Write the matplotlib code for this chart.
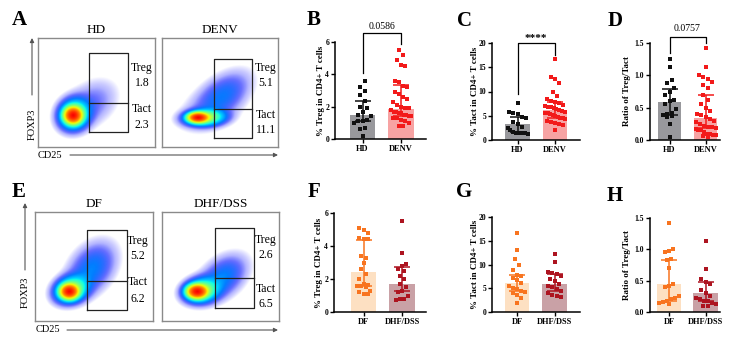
import numpy as np
import matplotlib
matplotlib.use('Agg')
import matplotlib.pyplot as plt
from matplotlib import colormaps

# ---------------- data ----------------
# Panel B: % Treg in CD4+ T cells (HD vs DENV)
B_groups = ["HD", "DENV"]
B_median = [1.50, 1.85]
B_q1 = [1.10, 1.40]
B_q3 = [2.35, 3.35]
B_HD = [3.6, 3.2, 3.0, 2.7, 2.35, 2.0, 1.9, 1.7, 1.5, 1.4, 1.2, 1.1, 1.1, 1.0, 0.7, 0.6, 0.2]
B_DENV = [5.5, 5.2, 4.9, 4.6, 4.5, 3.6, 3.5, 3.3, 3.2, 2.9, 2.8, 2.6, 2.5, 2.3, 2.1, 2.0,
          1.9, 1.9, 1.8, 1.7, 1.7, 1.6, 1.6, 1.5, 1.5, 1.4, 1.4, 1.3, 1.3, 1.2, 1.1, 1.0, 0.8, 0.8]
B_p = "0.0586"

# Panel C: % Tact in CD4+ T cells
C_median = [3.4, 6.1]
C_q1 = [1.6, 4.5]
C_q3 = [4.7, 7.9]
C_HD = [7.6, 5.8, 5.5, 5.3, 4.7, 4.5, 3.8, 3.3, 2.7, 2.4, 2.0, 1.6, 1.5, 1.5, 1.5, 1.4, 1.3]
C_DENV = [16.7, 13.0, 12.5, 11.7, 10.0, 9.0, 8.5, 8.1, 7.9, 7.6, 7.3, 7.0, 6.8, 6.8, 6.5, 6.3,
          6.2, 6.0, 5.8, 5.6, 5.5, 5.4, 5.2, 5.0, 4.8, 4.6, 4.5, 4.3, 4.0, 3.8, 3.5, 3.2, 3.0, 2.0]
C_p = "****"

# Panel D: Ratio of Treg/Tact
D_median = [0.59, 0.34]
D_q1 = [0.38, 0.18]
D_q3 = [0.79, 0.69]
D_HD = [1.25, 1.13, 0.93, 0.88, 0.80, 0.75, 0.70, 0.62, 0.60, 0.55, 0.48, 0.42, 0.40, 0.38,
        0.37, 0.35, 0.25, 0.05]
D_DENV = [1.42, 1.13, 1.0, 0.98, 0.95, 0.90, 0.85, 0.80, 0.70, 0.62, 0.55, 0.50, 0.45, 0.40,
          0.38, 0.35, 0.33, 0.30, 0.28, 0.25, 0.22, 0.20, 0.20, 0.18, 0.17, 0.15, 0.15, 0.12,
          0.10, 0.10, 0.08, 0.07, 0.06, 0.05]
D_p = "0.0757"

# Panel F: % Treg (DF vs DHF/DSS)
F_groups = ["DF", "DHF/DSS"]
F_median = [2.45, 1.70]
F_q1 = [1.60, 1.25]
F_q3 = [4.35, 2.70]
F_DF = [5.1, 5.0, 4.8, 4.5, 4.4, 4.4, 3.4, 3.3, 3.0, 2.6, 2.3, 2.0, 1.7, 1.65, 1.6, 1.6,
        1.5, 1.3, 1.2, 1.1, 1.1]
F_DHF = [5.5, 3.6, 2.9, 2.8, 2.6, 2.5, 2.2, 2.0, 1.7, 1.5, 1.3, 1.2, 1.0, 0.8, 0.8, 0.75]

# Panel G: % Tact
G_median = [6.1, 6.0]
G_q1 = [4.5, 4.4]
G_q3 = [7.8, 8.1]
G_DF = [16.7, 13.0, 11.2, 10.0, 8.8, 7.8, 7.5, 7.2, 6.8, 6.2, 5.5, 5.0, 4.8, 4.5, 4.3,
        4.0, 3.5, 3.0, 2.0]
G_DHF = [12.3, 10.6, 8.4, 8.2, 8.0, 7.5, 7.0, 6.5, 6.0, 5.5, 5.2, 4.8, 4.4, 4.0, 3.6, 3.4, 3.2]

# Panel H: Ratio of Treg/Tact
H_median = [0.44, 0.30]
H_q1 = [0.18, 0.17]
H_q3 = [0.83, 0.48]
H_DF = [1.42, 1.0, 0.98, 0.95, 0.85, 0.83, 0.70, 0.45, 0.42, 0.40, 0.25, 0.22, 0.20, 0.18,
        0.16, 0.15, 0.13]
H_DHF = [1.13, 0.69, 0.52, 0.48, 0.45, 0.35, 0.30, 0.25, 0.22, 0.20, 0.18, 0.17, 0.15, 0.12,
         0.10, 0.10]

# Flow panels: gate percentages
flow_titles = ["HD", "DENV", "DF", "DHF/DSS"]
treg_pct = ["1.8", "5.1", "5.2", "2.6"]
tact_pct = ["2.3", "11.1", "6.2", "6.5"]

# ---------------- style ----------------
c_hd_bar, c_hd_pt = "#98989c", "#111111"
c_denv_bar, c_denv_pt = "#f7a3a3", "#f21a1a"
c_df_bar, c_df_pt = "#fde0c2", "#f8741f"
c_dhf_bar, c_dhf_pt = "#c9a1a6", "#ad1420"

W, H = 751, 350
plt.rcParams['font.family'] = ['Liberation Serif', 'DejaVu Serif']
fig = plt.figure(figsize=(W / 100, H / 100), dpi=100)

ov = fig.add_axes([0, 0, 1, 1])
ov.set_xlim(0, W)
ov.set_ylim(H, 0)
ov.axis('off')


def ax_px(x0, y0, x1, y1):
    return fig.add_axes([x0 / W, 1 - y1 / H, (x1 - x0) / W, (y1 - y0) / H])


def swarm(vals, ppy, ppx, row=6.5, sp=4.2, maxw=10.0):
    """column-scatter layout: points within one row band are spread side by side"""
    order = list(np.argsort(vals)[::-1])
    groups = []
    for i in order:
        if groups and (vals[groups[-1][0]] - vals[i]) * ppy < row:
            groups[-1].append(i)
        else:
            groups.append([i])
    offs = np.zeros(len(vals))
    for g in groups:
        n = len(g)
        if n == 1:
            continue
        s = min(sp, 2 * maxw / (n - 1))
        for k, i in enumerate(g):
            j = k if (len(groups) % 2 == 0) else n - 1 - k
            offs[i] = (j - (n - 1) / 2) * s / ppx
    return offs


def bar_panel(rect, cpx, groups, med, q1, q3, pts, bcols, pcols, ylim, yticks,
              yticklabels, ylabel, ylab_x, bracket=None):
    x0, y0, x1, y1 = rect
    ax = ax_px(*rect)
    dc = cpx[1] - cpx[0]
    ax.set_xlim((x0 - cpx[0]) / dc, (x1 - cpx[0]) / dc)
    ax.set_ylim(*ylim)
    ppy = (y1 - y0) / (ylim[1] - ylim[0])
    xs = [0, 1]
    for i in range(2):
        ax.bar(xs[i], med[i], width=0.66, color=bcols[i], zorder=1)
        v = np.array(pts[i])
        offs = swarm(v, ppy, dc)
        ax.scatter(xs[i] + offs, v, s=5, color=pcols[i], marker='s', linewidths=0, zorder=3)
        ax.errorbar(xs[i], med[i], yerr=[[med[i] - q1[i]], [q3[i] - med[i]]], fmt='none',
                    ecolor=pcols[i], elinewidth=1.1, capsize=6, capthick=1.1, zorder=4)
    for s in ['top', 'right']:
        ax.spines[s].set_visible(False)
    for s in ['left', 'bottom']:
        ax.spines[s].set_linewidth(1.1)
    ax.set_xticks(xs)
    ax.set_xticklabels(groups, fontsize=6, fontweight='bold')
    ax.set_yticks(yticks)
    ax.set_yticklabels(yticklabels, fontsize=5.5, fontweight='bold')
    ax.tick_params(length=3, width=1, pad=1.2)
    ov.text(ylab_x, (y0 + y1) / 2, ylabel, rotation=90, ha='center', va='center',
            fontsize=6.5, fontweight='bold')
    if bracket is not None:
        yb, yl, yr, txt, ty = bracket
        ax.plot([0, 0, 1, 1], [yl, yb, yb, yr], color='k', lw=0.9, clip_on=False)
        ax.text(0.5, ty, txt, ha='center', va='center', fontsize=7 if txt != "****" else 8,
                fontweight='bold' if txt == "****" else 'normal')
    return ax


bar_panel((335, 42, 426, 139), (362.5, 401), B_groups, B_median, B_q1, B_q3, [B_HD, B_DENV],
          [c_hd_bar, c_denv_bar], [c_hd_pt, c_denv_pt], (0, 6), [0, 2, 4, 6], ["0", "2", "4", "6"],
          "% Treg in CD4+ T cells", 321, bracket=(6.55, 4.1, 5.9, B_p, 6.95))
bar_panel((492, 43, 580, 140), (517.5, 555), B_groups, C_median, C_q1, C_q3, [C_HD, C_DENV],
          [c_hd_bar, c_denv_bar], [c_hd_pt, c_denv_pt], (0, 20), [0, 5, 10, 15, 20],
          ["0", "5", "10", "15", "20"], "% Tact in CD4+ T cells", 475,
          bracket=(20.0, 9.4, 17.6, C_p, 20.9))
bar_panel((650, 43, 720, 140), (669.5, 705.5), B_groups, D_median, D_q1, D_q3, [D_HD, D_DENV],
          [c_hd_bar, c_denv_bar], [c_hd_pt, c_denv_pt], (0, 1.5), [0, 0.5, 1.0, 1.5],
          ["0.0", "0.5", "1.0", "1.5"], "Ratio of Treg/Tact", 627,
          bracket=(1.59, 1.35, 1.5, D_p, 1.73))
bar_panel((334, 213, 426, 312), (363.5, 402), F_groups, F_median, F_q1, F_q3, [F_DF, F_DHF],
          [c_df_bar, c_dhf_bar], [c_df_pt, c_dhf_pt], (0, 6), [0, 2, 4, 6], ["0", "2", "4", "6"],
          "% Treg in CD4+ T cells", 319)
bar_panel((492, 217, 580, 312), (517, 554.5), F_groups, G_median, G_q1, G_q3, [G_DF, G_DHF],
          [c_df_bar, c_dhf_bar], [c_df_pt, c_dhf_pt], (0, 20), [0, 5, 10, 15, 20],
          ["0", "5", "10", "15", "20"], "% Tact in CD4+ T cells", 475)
bar_panel((650, 218, 720, 312), (669, 705.5), F_groups, H_median, H_q1, H_q3, [H_DF, H_DHF],
          [c_df_bar, c_dhf_bar], [c_df_pt, c_dhf_pt], (0, 1.5), [0, 0.5, 1.0, 1.5],
          ["0.0", "0.5", "1.0", "1.5"], "Ratio of Treg/Tact", 627)

# ---------------- flow panels ----------------
# density components: (cx, cy, sx, sy, rho, weight) in 0-100 plot units
hd_comp = [(30, 29, 4.0, 4.0, 0.0, 1.0), (31, 30, 7, 7.5, 0.1, 0.15), (46, 40, 12, 12, 0.3, 0.012)]
denv_comp = [(31, 27, 4.5, 2.4, 0.0, 1.0), (37, 27, 9, 4, 0.1, 0.18), (52, 47, 13, 12, 0.5, 0.025),
             (40, 32, 16, 12, 0.3, 0.005)]
df_comp = [(29, 27, 4.0, 3.5, 0.0, 1.0), (31, 29, 7.5, 6.5, 0.2, 0.16), (48, 48, 11, 13, 0.35, 0.03)]
dhf_comp = [(30, 27, 4.5, 3.3, 0.0, 1.0), (34, 28, 8, 6, 0.15, 0.15), (52, 40, 11, 11, 0.4, 0.03)]
flow_rects = [(38, 38, 155, 147), (162, 38, 278, 147), (35, 212, 153, 321), (162, 212, 279, 321)]
flow_gates = [(43.6, 76.9, 13.8, 86.2, 40.4), (44.8, 77.6, 8.3, 80.7, 34.9),
              (44.1, 78.0, 10.1, 83.5, 36.7), (45.3, 78.6, 11.9, 85.3, 39.4)]
flow_text_x = [89, 89.7, 87.3, 88.9]
flow_text_y = [(72.5, 58.7, 34.9, 20.2), (72.5, 58.7, 29.4, 15.6), (73.4, 59.6, 35.8, 20.2),
               (74.3, 60.6, 29.4, 15.6)]
jet = colormaps['jet']


def flow_panel(rect, comps, gate, tx, ty, title, treg, tact):
    ax = ax_px(*rect)
    g = np.linspace(0, 100, 300)
    X, Y = np.meshgrid(g, g)
    Dn = np.zeros_like(X)
    for cx, cy, sx, sy, rho, w in comps:
        dx = (X - cx) / sx
        dy = (Y - cy) / sy
        q = (dx * dx - 2 * rho * dx * dy + dy * dy) / (1 - rho ** 2)
        Dn += w * np.exp(-0.5 * q)
    Dn /= Dn.max()
    lg = np.log10(np.maximum(Dn, 1e-12))
    p = np.interp(lg, [-2.8, -2.0, -1.3, -0.8, -0.4, 0], [0.12, 0.14, 0.33, 0.55, 0.75, 0.9])
    rgba = jet(p)
    rgba[..., 3] = np.interp(lg, [-2.9, -2.3, -1.6], [0.0, 0.3, 1.0])
    ax.imshow(rgba, extent=(0, 100, 0, 100), origin='lower', interpolation='bilinear', aspect='auto')
    ax.set_xlim(0, 100)
    ax.set_ylim(0, 100)
    ax.set_xticks([])
    ax.set_yticks([])
    for s in ax.spines.values():
        s.set_color('#8a8a8a')
        s.set_linewidth(1.0)
    gx0, gx1, gy0, gy1, gs = gate
    ax.plot([gx0, gx1, gx1, gx0, gx0], [gy0, gy0, gy1, gy1, gy0], color='#222', lw=0.9)
    ax.plot([gx0, gx1], [gs, gs], color='#222', lw=0.9)
    for txt, yy in zip(["Treg", treg, "Tact", tact], ty):
        ax.text(tx, yy, txt, ha='center', va='center', fontsize=8.5)
    x0, y0, x1, y1 = rect
    ov.text((x0 + x1) / 2, y0 - 8, title, ha='center', va='center', fontsize=9.5)


for i in range(4):
    flow_panel(flow_rects[i], [hd_comp, denv_comp, df_comp, dhf_comp][i], flow_gates[i],
               flow_text_x[i], flow_text_y[i], flow_titles[i], treg_pct[i], tact_pct[i])

arrow = dict(arrowstyle='-|>', color='#555555', lw=0.8, mutation_scale=6, shrinkA=0, shrinkB=0)
for (ax_x, top, bot, txt_y, cd_x, cd_y, ar0, ar1) in [(32, 38, 95, 124, 50, 155, 70, 278),
                                                       (25, 203, 270, 292, 48, 330, 67, 278)]:
    ov.annotate("", xy=(ax_x, top), xytext=(ax_x, bot), arrowprops=arrow)
    ov.text(ax_x, txt_y, "FOXP3", rotation=90, ha='center', va='center', fontsize=7.5)
    ov.text(cd_x, cd_y, "CD25", ha='center', va='center', fontsize=7.5)
    ov.annotate("", xy=(ar1, cd_y), xytext=(ar0, cd_y), arrowprops=arrow)

for L, x, y in [("A", 19, 20), ("B", 314, 20), ("C", 464, 21), ("D", 615, 21),
                ("E", 19, 192), ("F", 314, 192), ("G", 464, 192), ("H", 615, 196)]:
    ov.text(x, y, L, ha='center', va='center', fontsize=15, fontweight='bold')

fig.savefig("out.png", dpi=100)
